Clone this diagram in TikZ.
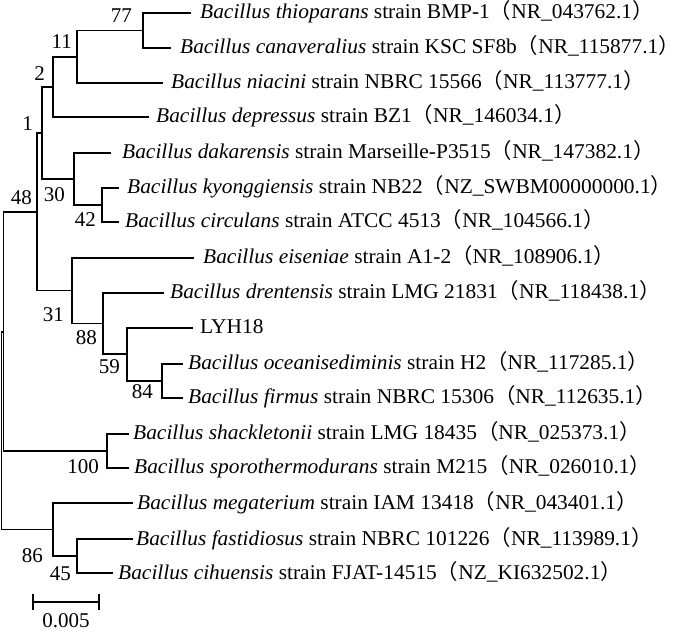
\documentclass[tikz,border=0pt]{standalone}
\usepackage{fontspec}
\usepackage{graphicx}
\setmainfont{Liberation Serif}
\newfontfamily\cjk{Noto Sans CJK SC}
\newcommand\lpar{{\cjk （}}
\newcommand\rpar{\makebox[0.5em][l]{\cjk ）}}
\newcommand\sx[1]{\scalebox{1.02}[1]{#1}}
\begin{document}
\begin{tikzpicture}[x=1pt,y=-1pt,
  br/.style={line width=1.3pt, line cap=rect},
  lab/.style={anchor=base west, inner sep=0pt, font=\fontsize{21}{25}\selectfont},
  bs/.style={anchor=base east, inner sep=0pt, font=\fontsize{21}{25}\selectfont}]
\useasboundingbox (0,0) rectangle (678,636);
% internal nodes
\coordinate (r0) at (1.5,430);
\coordinate (r1) at (3.5,332);
\coordinate (n48) at (37,212);
\coordinate (n1) at (42,133);
\coordinate (n2) at (53,87);
\coordinate (n11) at (77,57);
\coordinate (n77) at (143,30.5);
\coordinate (n30) at (74,179);
\coordinate (n42) at (102,205);
\coordinate (n31) at (72,290.5);
\coordinate (n88) at (103,323.5);
\coordinate (n59) at (127,354);
\coordinate (n84) at (162,381);
\coordinate (n100) at (107,451);
\coordinate (n86) at (53,529.5);
\coordinate (n45) at (77,556);
% leaf ends
\coordinate (e1) at (190,13);
\coordinate (e2) at (170,48);
\coordinate (e3) at (162,83);
\coordinate (e4) at (148,117);
\coordinate (e5) at (110,153);
\coordinate (e6) at (118,188);
\coordinate (e7) at (118,222);
\coordinate (e8) at (193,258);
\coordinate (e9) at (163,293);
\coordinate (e10) at (192,328);
\coordinate (e11) at (182,364);
\coordinate (e12) at (182,398);
\coordinate (e13) at (128,434);
\coordinate (e14) at (128,468);
\coordinate (e15) at (132,503);
\coordinate (e16) at (132,539);
\coordinate (e17) at (112,573);
% branches
\draw[br] (r0) |- (r1);
\draw[br] (r0) |- (n86);
\draw[br] (r1) |- (n48);
\draw[br] (r1) |- (n100);
\draw[br] (n48) |- (n1);
\draw[br] (n48) |- (n31);
\draw[br] (n1) |- (n2);
\draw[br] (n1) |- (n30);
\draw[br] (n2) |- (n11);
\draw[br] (n2) |- (e4);
\draw[br] (n11) |- (n77);
\draw[br] (n11) |- (e3);
\draw[br] (n77) |- (e1);
\draw[br] (n77) |- (e2);
\draw[br] (n30) |- (e5);
\draw[br] (n30) |- (n42);
\draw[br] (n42) |- (e6);
\draw[br] (n42) |- (e7);
\draw[br] (n31) |- (e8);
\draw[br] (n31) |- (n88);
\draw[br] (n88) |- (e9);
\draw[br] (n88) |- (n59);
\draw[br] (n59) |- (e10);
\draw[br] (n59) |- (n84);
\draw[br] (n84) |- (e11);
\draw[br] (n84) |- (e12);
\draw[br] (n100) |- (e13);
\draw[br] (n100) |- (e14);
\draw[br] (n86) |- (e15);
\draw[br] (n86) |- (n45);
\draw[br] (n45) |- (e16);
\draw[br] (n45) |- (e17);
% leaf labels
\node[lab] (t1) at (200,19) {\sx{\textit{Bacillus thioparans} strain BMP-1\lpar NR\_043762.1\rpar}};
\node[lab] (t2) at (180,54) {\sx{\textit{Bacillus canaveralius} strain KSC SF8b\lpar NR\_115877.1\rpar}};
\node[lab] (t3) at (171,89) {\sx{\textit{Bacillus niacini} strain NBRC 15566\lpar NR\_113777.1\rpar}};
\node[lab] (t4) at (156,123) {\sx{\textit{Bacillus depressus} strain BZ1\lpar NR\_146034.1\rpar}};
\node[lab] (t5) at (122,159) {\sx{\textit{Bacillus dakarensis} strain Marseille-P3515\lpar NR\_147382.1\rpar}};
\node[lab] (t6) at (127,194) {\sx{\textit{Bacillus kyonggiensis} strain NB22\lpar NZ\_SWBM00000000.1\rpar}};
\node[lab] (t7) at (125,228) {\sx{\textit{Bacillus circulans} strain ATCC 4513\lpar NR\_104566.1\rpar}};
\node[lab] (t8) at (203,264) {\sx{\textit{Bacillus eiseniae} strain A1-2\lpar NR\_108906.1\rpar}};
\node[lab] (t9) at (170,299) {\sx{\textit{Bacillus drentensis} strain LMG 21831\lpar NR\_118438.1\rpar}};
\node[lab] (t10) at (200,334) {\sx{LYH18}};
\node[lab] (t11) at (188,370) {\sx{\textit{Bacillus oceanisediminis} strain H2\lpar NR\_117285.1\rpar}};
\node[lab] (t12) at (188,404) {\sx{\textit{Bacillus firmus} strain NBRC 15306\lpar NR\_112635.1\rpar}};
\node[lab] (t13) at (133,440) {\sx{\textit{Bacillus shackletonii} strain LMG 18435\lpar NR\_025373.1\rpar}};
\node[lab] (t14) at (134,474) {\sx{\textit{Bacillus sporothermodurans} strain M215\lpar NR\_026010.1\rpar}};
\node[lab] (t15) at (137,509) {\sx{\textit{Bacillus megaterium} strain IAM 13418\lpar NR\_043401.1\rpar}};
\node[lab] (t16) at (136,545) {\sx{\textit{Bacillus fastidiosus} strain NBRC 101226\lpar NR\_113989.1\rpar}};
\node[lab] (t17) at (118,579) {\sx{\textit{Bacillus cihuensis} strain FJAT-14515\lpar NZ\_KI632502.1\rpar}};
% bootstrap values
\node[bs] (b77) at (132,23) {77};
\node[bs] (b11) at (72,49) {11};
\node[bs] (b2) at (45,81) {2};
\node[bs] (b1) at (33,131) {1};
\node[bs] (b48) at (32,205) {48};
\node[bs] (b30) at (65,202) {30};
\node[bs] (b42) at (96,227) {42};
\node[bs] (b31) at (64,322) {31};
\node[bs] (b88) at (97,345) {88};
\node[bs] (b59) at (120,374) {59};
\node[bs] (b84) at (153,399) {84};
\node[bs] (b100) at (99,473) {100};
\node[bs] (b86) at (43,562) {86};
\node[bs] (b45) at (71,580) {45};
% scale bar
\coordinate (sL) at (33,602);
\coordinate (sR) at (99,602);
\draw[br] (sL) -- (sR);
\draw[br] ([yshift=7pt]sL) -- ([yshift=-7pt]sL);
\draw[br] ([yshift=7pt]sR) -- ([yshift=-7pt]sR);
\node[anchor=base, inner sep=0pt, font=\fontsize{21}{25}\selectfont] (sl) at (66,627) {0.005};
\end{tikzpicture}
\end{document}
